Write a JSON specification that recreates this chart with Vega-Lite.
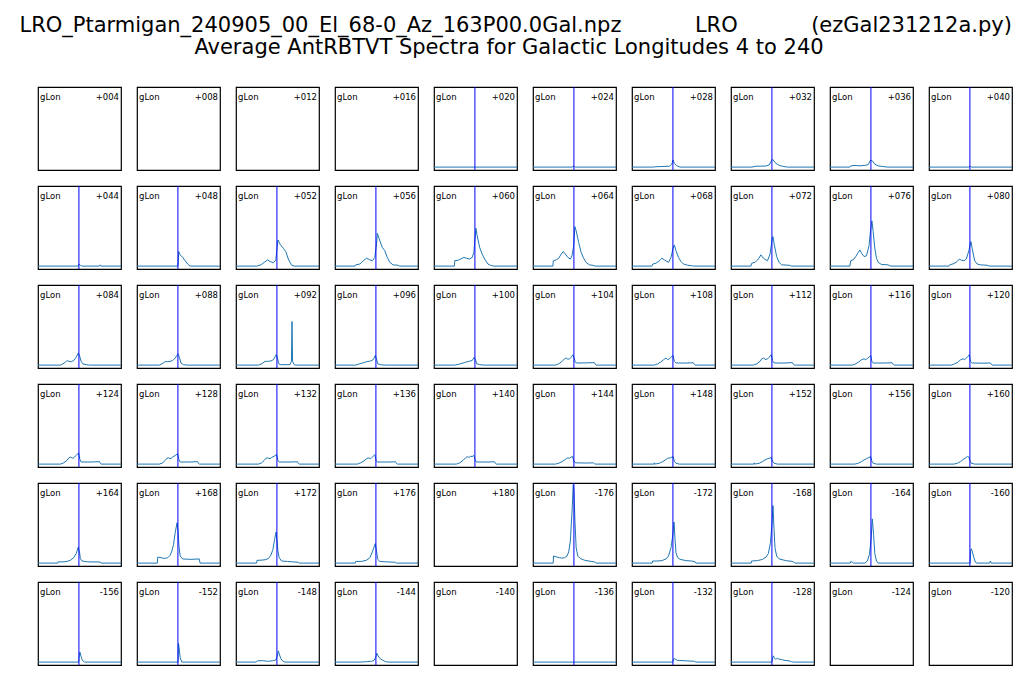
{
"$schema":"https://vega.github.io/schema/vega-lite/v6.json",
"background":"white",
"padding":{"left":6,"top":14,"right":5,"bottom":5},
"bounds":"flush",
"title":{"text":["\u200b\u00a0\u00a0LRO_Ptarmigan_240905_00_El_68-0_Az_163P00.0Gal.npz\u00a0\u00a0\u00a0\u00a0\u00a0\u00a0\u00a0\u00a0\u00a0\u00a0\u00a0LRO\u00a0\u00a0\u00a0\u00a0\u00a0\u00a0\u00a0\u00a0\u00a0\u00a0\u00a0(ezGal231212a.py)","Average AntRBTVT Spectra for Galactic Longitudes 4 to 240"],"fontSize":21,"font":"DejaVu Sans","fontWeight":"normal","anchor":"middle","dx":-16,"offset":28,"lineHeight":22,"color":"#000"},
"data":{"values":[
{"p":0,"t":"l","lab":"+004"},{"p":1,"t":"l","lab":"+008"},{"p":2,"t":"l","lab":"+012"},{"p":3,"t":"l","lab":"+016"},{"p":4,"t":"l","lab":"+020"},{"p":5,"t":"l","lab":"+024"},{"p":6,"t":"l","lab":"+028"},{"p":7,"t":"l","lab":"+032"},{"p":8,"t":"l","lab":"+036"},{"p":9,"t":"l","lab":"+040"},
{"p":10,"t":"l","lab":"+044"},{"p":11,"t":"l","lab":"+048"},{"p":12,"t":"l","lab":"+052"},{"p":13,"t":"l","lab":"+056"},{"p":14,"t":"l","lab":"+060"},{"p":15,"t":"l","lab":"+064"},{"p":16,"t":"l","lab":"+068"},{"p":17,"t":"l","lab":"+072"},{"p":18,"t":"l","lab":"+076"},{"p":19,"t":"l","lab":"+080"},
{"p":20,"t":"l","lab":"+084"},{"p":21,"t":"l","lab":"+088"},{"p":22,"t":"l","lab":"+092"},{"p":23,"t":"l","lab":"+096"},{"p":24,"t":"l","lab":"+100"},{"p":25,"t":"l","lab":"+104"},{"p":26,"t":"l","lab":"+108"},{"p":27,"t":"l","lab":"+112"},{"p":28,"t":"l","lab":"+116"},{"p":29,"t":"l","lab":"+120"},
{"p":30,"t":"l","lab":"+124"},{"p":31,"t":"l","lab":"+128"},{"p":32,"t":"l","lab":"+132"},{"p":33,"t":"l","lab":"+136"},{"p":34,"t":"l","lab":"+140"},{"p":35,"t":"l","lab":"+144"},{"p":36,"t":"l","lab":"+148"},{"p":37,"t":"l","lab":"+152"},{"p":38,"t":"l","lab":"+156"},{"p":39,"t":"l","lab":"+160"},
{"p":40,"t":"l","lab":"+164"},{"p":41,"t":"l","lab":"+168"},{"p":42,"t":"l","lab":"+172"},{"p":43,"t":"l","lab":"+176"},{"p":44,"t":"l","lab":"+180"},{"p":45,"t":"l","lab":"-176"},{"p":46,"t":"l","lab":"-172"},{"p":47,"t":"l","lab":"-168"},{"p":48,"t":"l","lab":"-164"},{"p":49,"t":"l","lab":"-160"},
{"p":50,"t":"l","lab":"-156"},{"p":51,"t":"l","lab":"-152"},{"p":52,"t":"l","lab":"-148"},{"p":53,"t":"l","lab":"-144"},{"p":54,"t":"l","lab":"-140"},{"p":55,"t":"l","lab":"-136"},{"p":56,"t":"l","lab":"-132"},{"p":57,"t":"l","lab":"-128"},{"p":58,"t":"l","lab":"-124"},{"p":59,"t":"l","lab":"-120"},
{"p":4,"t":"v"},{"p":5,"t":"v"},{"p":6,"t":"v"},{"p":7,"t":"v"},{"p":8,"t":"v"},{"p":9,"t":"v"},{"p":10,"t":"v"},{"p":11,"t":"v"},{"p":12,"t":"v"},{"p":13,"t":"v"},{"p":14,"t":"v"},{"p":15,"t":"v"},{"p":16,"t":"v"},{"p":17,"t":"v"},{"p":18,"t":"v"},{"p":19,"t":"v"},{"p":20,"t":"v"},{"p":21,"t":"v"},{"p":22,"t":"v"},{"p":23,"t":"v"},{"p":24,"t":"v"},{"p":25,"t":"v"},{"p":26,"t":"v"},{"p":27,"t":"v"},{"p":28,"t":"v"},{"p":29,"t":"v"},{"p":30,"t":"v"},{"p":31,"t":"v"},{"p":32,"t":"v"},{"p":33,"t":"v"},{"p":34,"t":"v"},{"p":35,"t":"v"},{"p":36,"t":"v"},{"p":37,"t":"v"},{"p":38,"t":"v"},{"p":39,"t":"v"},{"p":40,"t":"v"},{"p":41,"t":"v"},{"p":42,"t":"v"},{"p":43,"t":"v"},{"p":45,"t":"v"},{"p":46,"t":"v"},{"p":47,"t":"v"},{"p":48,"t":"v"},{"p":49,"t":"v"},{"p":50,"t":"v"},{"p":51,"t":"v"},{"p":52,"t":"v"},{"p":53,"t":"v"},{"p":55,"t":"v"},{"p":56,"t":"v"},{"p":57,"t":"v"},
{"p":4,"t":"s","x":0,"y":3.5},{"p":4,"t":"s","x":100,"y":3.5},
{"p":5,"t":"s","x":0,"y":3.5},{"p":5,"t":"s","x":47,"y":3.5},{"p":5,"t":"s","x":49,"y":4.5},{"p":5,"t":"s","x":51,"y":3.5},{"p":5,"t":"s","x":100,"y":3.5},
{"p":6,"t":"s","x":0,"y":3.5},{"p":6,"t":"s","x":25,"y":3.5},{"p":6,"t":"s","x":30,"y":4},{"p":6,"t":"s","x":45,"y":4.5},{"p":6,"t":"s","x":48,"y":7},{"p":6,"t":"s","x":49.5,"y":12},{"p":6,"t":"s","x":51,"y":8},{"p":6,"t":"s","x":54,"y":5},{"p":6,"t":"s","x":58,"y":3.5},{"p":6,"t":"s","x":100,"y":3.5},
{"p":7,"t":"s","x":0,"y":3.5},{"p":7,"t":"s","x":25,"y":3.5},{"p":7,"t":"s","x":30,"y":4.5},{"p":7,"t":"s","x":42,"y":4.8},{"p":7,"t":"s","x":46,"y":6},{"p":7,"t":"s","x":48.5,"y":11},{"p":7,"t":"s","x":50,"y":13},{"p":7,"t":"s","x":53,"y":9},{"p":7,"t":"s","x":57,"y":6},{"p":7,"t":"s","x":62,"y":4.5},{"p":7,"t":"s","x":68,"y":3.5},{"p":7,"t":"s","x":100,"y":3.5},
{"p":8,"t":"s","x":0,"y":3.5},{"p":8,"t":"s","x":24,"y":3.5},{"p":8,"t":"s","x":25,"y":5},{"p":8,"t":"s","x":30,"y":5.5},{"p":8,"t":"s","x":35,"y":5},{"p":8,"t":"s","x":42,"y":5.5},{"p":8,"t":"s","x":46,"y":6.5},{"p":8,"t":"s","x":49,"y":12},{"p":8,"t":"s","x":51,"y":11},{"p":8,"t":"s","x":54,"y":7},{"p":8,"t":"s","x":58,"y":5},{"p":8,"t":"s","x":65,"y":4},{"p":8,"t":"s","x":70,"y":3.5},{"p":8,"t":"s","x":100,"y":3.5},
{"p":9,"t":"s","x":0,"y":3.5},{"p":9,"t":"s","x":48,"y":3.5},{"p":9,"t":"s","x":49.5,"y":4.5},{"p":9,"t":"s","x":51,"y":3.5},{"p":9,"t":"s","x":100,"y":3.5},
{"p":10,"t":"s","x":0,"y":3.5},{"p":10,"t":"s","x":48.5,"y":3.5},{"p":10,"t":"s","x":49.5,"y":6},{"p":10,"t":"s","x":51,"y":4.5},{"p":10,"t":"s","x":53,"y":3.5},{"p":10,"t":"s","x":74,"y":3.5},{"p":10,"t":"s","x":75,"y":5},{"p":10,"t":"s","x":76,"y":3.5},{"p":10,"t":"s","x":100,"y":3.5},
{"p":11,"t":"s","x":0,"y":3.5},{"p":11,"t":"s","x":49.5,"y":3.5},{"p":11,"t":"s","x":50.3,"y":21},{"p":11,"t":"s","x":52,"y":17},{"p":11,"t":"s","x":55,"y":14},{"p":11,"t":"s","x":58,"y":10},{"p":11,"t":"s","x":61,"y":6},{"p":11,"t":"s","x":64,"y":3.5},{"p":11,"t":"s","x":100,"y":3.5},
{"p":12,"t":"s","x":0,"y":3.5},{"p":12,"t":"s","x":25,"y":3.5},{"p":12,"t":"s","x":30,"y":5},{"p":12,"t":"s","x":34,"y":8},{"p":12,"t":"s","x":38,"y":11},{"p":12,"t":"s","x":41,"y":9},{"p":12,"t":"s","x":45,"y":7.5},{"p":12,"t":"s","x":48,"y":11},{"p":12,"t":"s","x":50.5,"y":35},{"p":12,"t":"s","x":53,"y":30},{"p":12,"t":"s","x":57,"y":25},{"p":12,"t":"s","x":60,"y":21},{"p":12,"t":"s","x":63,"y":12},{"p":12,"t":"s","x":67,"y":4.5},{"p":12,"t":"s","x":70,"y":3.5},{"p":12,"t":"s","x":100,"y":3.5},
{"p":13,"t":"s","x":0,"y":3.5},{"p":13,"t":"s","x":24,"y":3.5},{"p":13,"t":"s","x":25,"y":5},{"p":13,"t":"s","x":30,"y":6},{"p":13,"t":"s","x":34,"y":10},{"p":13,"t":"s","x":38,"y":13},{"p":13,"t":"s","x":42,"y":11},{"p":13,"t":"s","x":45,"y":10},{"p":13,"t":"s","x":48,"y":14},{"p":13,"t":"s","x":50,"y":30},{"p":13,"t":"s","x":51,"y":43},{"p":13,"t":"s","x":54,"y":34},{"p":13,"t":"s","x":57,"y":26},{"p":13,"t":"s","x":60,"y":22},{"p":13,"t":"s","x":63,"y":14},{"p":13,"t":"s","x":66,"y":8},{"p":13,"t":"s","x":70,"y":5},{"p":13,"t":"s","x":76,"y":4.5},{"p":13,"t":"s","x":78,"y":3.5},{"p":13,"t":"s","x":100,"y":3.5},
{"p":14,"t":"s","x":0,"y":3.5},{"p":14,"t":"s","x":24.5,"y":3.5},{"p":14,"t":"s","x":25,"y":10},{"p":14,"t":"s","x":29,"y":10.5},{"p":14,"t":"s","x":32,"y":12},{"p":14,"t":"s","x":36,"y":14},{"p":14,"t":"s","x":39,"y":13},{"p":14,"t":"s","x":43,"y":12},{"p":14,"t":"s","x":46,"y":14},{"p":14,"t":"s","x":48,"y":20},{"p":14,"t":"s","x":50.5,"y":49},{"p":14,"t":"s","x":52,"y":40},{"p":14,"t":"s","x":55,"y":26},{"p":14,"t":"s","x":58,"y":18},{"p":14,"t":"s","x":61,"y":12},{"p":14,"t":"s","x":65,"y":6},{"p":14,"t":"s","x":68,"y":4.5},{"p":14,"t":"s","x":72,"y":3.5},{"p":14,"t":"s","x":100,"y":3.5},
{"p":15,"t":"s","x":0,"y":3.5},{"p":15,"t":"s","x":24,"y":3.5},{"p":15,"t":"s","x":24.5,"y":10},{"p":15,"t":"s","x":28,"y":11},{"p":15,"t":"s","x":31,"y":13},{"p":15,"t":"s","x":34,"y":18},{"p":15,"t":"s","x":36.5,"y":21},{"p":15,"t":"s","x":39,"y":18},{"p":15,"t":"s","x":42,"y":14},{"p":15,"t":"s","x":45,"y":12},{"p":15,"t":"s","x":47,"y":16},{"p":15,"t":"s","x":49,"y":28},{"p":15,"t":"s","x":50.5,"y":51},{"p":15,"t":"s","x":52,"y":46},{"p":15,"t":"s","x":55,"y":32},{"p":15,"t":"s","x":58,"y":20},{"p":15,"t":"s","x":61,"y":13},{"p":15,"t":"s","x":64,"y":8},{"p":15,"t":"s","x":68,"y":5},{"p":15,"t":"s","x":72,"y":4.5},{"p":15,"t":"s","x":75,"y":3.5},{"p":15,"t":"s","x":100,"y":3.5},
{"p":16,"t":"s","x":0,"y":3.5},{"p":16,"t":"s","x":24,"y":3.5},{"p":16,"t":"s","x":25,"y":6},{"p":16,"t":"s","x":29,"y":7},{"p":16,"t":"s","x":33,"y":10},{"p":16,"t":"s","x":36,"y":13},{"p":16,"t":"s","x":39,"y":11},{"p":16,"t":"s","x":42,"y":9},{"p":16,"t":"s","x":44,"y":8},{"p":16,"t":"s","x":47,"y":14},{"p":16,"t":"s","x":49.5,"y":25},{"p":16,"t":"s","x":51,"y":29},{"p":16,"t":"s","x":53,"y":22},{"p":16,"t":"s","x":56,"y":14},{"p":16,"t":"s","x":59,"y":9},{"p":16,"t":"s","x":62,"y":6},{"p":16,"t":"s","x":67,"y":4.5},{"p":16,"t":"s","x":72,"y":4},{"p":16,"t":"s","x":74,"y":3.5},{"p":16,"t":"s","x":100,"y":3.5},
{"p":17,"t":"s","x":0,"y":3.5},{"p":17,"t":"s","x":24,"y":3.5},{"p":17,"t":"s","x":25,"y":7},{"p":17,"t":"s","x":29,"y":8},{"p":17,"t":"s","x":33,"y":12},{"p":17,"t":"s","x":36,"y":17},{"p":17,"t":"s","x":39,"y":13},{"p":17,"t":"s","x":42,"y":11},{"p":17,"t":"s","x":44,"y":10},{"p":17,"t":"s","x":47,"y":18},{"p":17,"t":"s","x":49.5,"y":35},{"p":17,"t":"s","x":50.5,"y":39},{"p":17,"t":"s","x":52,"y":30},{"p":17,"t":"s","x":55,"y":15},{"p":17,"t":"s","x":58,"y":8},{"p":17,"t":"s","x":61,"y":5},{"p":17,"t":"s","x":70,"y":4.5},{"p":17,"t":"s","x":73,"y":3.5},{"p":17,"t":"s","x":100,"y":3.5},
{"p":18,"t":"s","x":0,"y":3.5},{"p":18,"t":"s","x":24,"y":3.5},{"p":18,"t":"s","x":25,"y":10},{"p":18,"t":"s","x":28,"y":11},{"p":18,"t":"s","x":31,"y":15},{"p":18,"t":"s","x":34,"y":20},{"p":18,"t":"s","x":36,"y":23},{"p":18,"t":"s","x":38,"y":19},{"p":18,"t":"s","x":41,"y":15},{"p":18,"t":"s","x":44,"y":16},{"p":18,"t":"s","x":47,"y":28},{"p":18,"t":"s","x":49,"y":48},{"p":18,"t":"s","x":50.5,"y":58},{"p":18,"t":"s","x":52,"y":45},{"p":18,"t":"s","x":54,"y":25},{"p":18,"t":"s","x":56,"y":13},{"p":18,"t":"s","x":58,"y":8},{"p":18,"t":"s","x":62,"y":5.5},{"p":18,"t":"s","x":70,"y":5},{"p":18,"t":"s","x":73,"y":3.5},{"p":18,"t":"s","x":100,"y":3.5},
{"p":19,"t":"s","x":0,"y":3.5},{"p":19,"t":"s","x":24,"y":3.5},{"p":19,"t":"s","x":25,"y":5},{"p":19,"t":"s","x":30,"y":6.5},{"p":19,"t":"s","x":34,"y":9},{"p":19,"t":"s","x":36.5,"y":12},{"p":19,"t":"s","x":39,"y":10.5},{"p":19,"t":"s","x":42,"y":10},{"p":19,"t":"s","x":45,"y":12},{"p":19,"t":"s","x":48,"y":22},{"p":19,"t":"s","x":50.5,"y":33},{"p":19,"t":"s","x":52,"y":25},{"p":19,"t":"s","x":55,"y":10},{"p":19,"t":"s","x":58,"y":6},{"p":19,"t":"s","x":62,"y":5},{"p":19,"t":"s","x":70,"y":4.5},{"p":19,"t":"s","x":73,"y":3.5},{"p":19,"t":"s","x":100,"y":3.5},
{"p":20,"t":"s","x":0,"y":3.5},{"p":20,"t":"s","x":27,"y":3.5},{"p":20,"t":"s","x":30,"y":5},{"p":20,"t":"s","x":33,"y":7},{"p":20,"t":"s","x":35,"y":9},{"p":20,"t":"s","x":37,"y":8},{"p":20,"t":"s","x":40,"y":7.5},{"p":20,"t":"s","x":43,"y":9},{"p":20,"t":"s","x":46,"y":13},{"p":20,"t":"s","x":48.5,"y":18},{"p":20,"t":"s","x":50,"y":15},{"p":20,"t":"s","x":52,"y":8},{"p":20,"t":"s","x":54,"y":5},{"p":20,"t":"s","x":58,"y":4},{"p":20,"t":"s","x":62,"y":3.5},{"p":20,"t":"s","x":100,"y":3.5},
{"p":21,"t":"s","x":0,"y":3.5},{"p":21,"t":"s","x":27,"y":3.5},{"p":21,"t":"s","x":30,"y":5},{"p":21,"t":"s","x":33,"y":7},{"p":21,"t":"s","x":35,"y":8},{"p":21,"t":"s","x":37,"y":7.5},{"p":21,"t":"s","x":40,"y":8},{"p":21,"t":"s","x":43,"y":9},{"p":21,"t":"s","x":46,"y":12},{"p":21,"t":"s","x":49.5,"y":17},{"p":21,"t":"s","x":51,"y":13},{"p":21,"t":"s","x":53,"y":6},{"p":21,"t":"s","x":56,"y":4},{"p":21,"t":"s","x":60,"y":3.5},{"p":21,"t":"s","x":100,"y":3.5},
{"p":22,"t":"s","x":0,"y":3.5},{"p":22,"t":"s","x":27,"y":3.5},{"p":22,"t":"s","x":31,"y":5},{"p":22,"t":"s","x":35,"y":8},{"p":22,"t":"s","x":38,"y":8},{"p":22,"t":"s","x":42,"y":8.5},{"p":22,"t":"s","x":45,"y":10},{"p":22,"t":"s","x":48.5,"y":16},{"p":22,"t":"s","x":50,"y":12},{"p":22,"t":"s","x":51.5,"y":5},{"p":22,"t":"s","x":54,"y":4},{"p":22,"t":"s","x":65,"y":4},{"p":22,"t":"s","x":66.8,"y":8},{"p":22,"t":"s","x":67.5,"y":56},{"p":22,"t":"s","x":68.2,"y":8},{"p":22,"t":"s","x":70,"y":4},{"p":22,"t":"s","x":72,"y":3.5},{"p":22,"t":"s","x":100,"y":3.5},
{"p":23,"t":"s","x":0,"y":3.5},{"p":23,"t":"s","x":25,"y":3.5},{"p":23,"t":"s","x":28,"y":4.5},{"p":23,"t":"s","x":33,"y":6},{"p":23,"t":"s","x":38,"y":7.5},{"p":23,"t":"s","x":43,"y":8.5},{"p":23,"t":"s","x":46,"y":10},{"p":23,"t":"s","x":48.5,"y":15},{"p":23,"t":"s","x":50,"y":11},{"p":23,"t":"s","x":51.5,"y":5},{"p":23,"t":"s","x":55,"y":4},{"p":23,"t":"s","x":60,"y":3.5},{"p":23,"t":"s","x":100,"y":3.5},
{"p":24,"t":"s","x":0,"y":3.5},{"p":24,"t":"s","x":25,"y":3.5},{"p":24,"t":"s","x":30,"y":4.5},{"p":24,"t":"s","x":35,"y":6},{"p":24,"t":"s","x":38,"y":7},{"p":24,"t":"s","x":42,"y":8},{"p":24,"t":"s","x":46,"y":9},{"p":24,"t":"s","x":48.5,"y":13},{"p":24,"t":"s","x":50,"y":10},{"p":24,"t":"s","x":51.5,"y":5},{"p":24,"t":"s","x":55,"y":4},{"p":24,"t":"s","x":60,"y":3.5},{"p":24,"t":"s","x":100,"y":3.5},
{"p":25,"t":"s","x":0,"y":3.5},{"p":25,"t":"s","x":27,"y":3.5},{"p":25,"t":"s","x":31,"y":5},{"p":25,"t":"s","x":35,"y":8},{"p":25,"t":"s","x":38,"y":11},{"p":25,"t":"s","x":40,"y":12},{"p":25,"t":"s","x":42,"y":10.5},{"p":25,"t":"s","x":44,"y":11},{"p":25,"t":"s","x":46,"y":13},{"p":25,"t":"s","x":48,"y":16},{"p":25,"t":"s","x":49.5,"y":12},{"p":25,"t":"s","x":51,"y":7},{"p":25,"t":"s","x":53,"y":6},{"p":25,"t":"s","x":65,"y":6.2},{"p":25,"t":"s","x":74,"y":6.5},{"p":25,"t":"s","x":75,"y":4.5},{"p":25,"t":"s","x":76,"y":3.5},{"p":25,"t":"s","x":100,"y":3.5},
{"p":26,"t":"s","x":0,"y":3.5},{"p":26,"t":"s","x":27,"y":3.5},{"p":26,"t":"s","x":31,"y":5},{"p":26,"t":"s","x":35,"y":7.5},{"p":26,"t":"s","x":38,"y":10},{"p":26,"t":"s","x":41,"y":12},{"p":26,"t":"s","x":43,"y":10},{"p":26,"t":"s","x":45,"y":11},{"p":26,"t":"s","x":47,"y":13},{"p":26,"t":"s","x":49.5,"y":15},{"p":26,"t":"s","x":51,"y":8},{"p":26,"t":"s","x":53,"y":6},{"p":26,"t":"s","x":65,"y":6},{"p":26,"t":"s","x":74,"y":6.3},{"p":26,"t":"s","x":75,"y":4.5},{"p":26,"t":"s","x":76,"y":3.5},{"p":26,"t":"s","x":100,"y":3.5},
{"p":27,"t":"s","x":0,"y":3.5},{"p":27,"t":"s","x":27,"y":3.5},{"p":27,"t":"s","x":31,"y":5},{"p":27,"t":"s","x":35,"y":8},{"p":27,"t":"s","x":37,"y":11},{"p":27,"t":"s","x":39,"y":12},{"p":27,"t":"s","x":42,"y":10},{"p":27,"t":"s","x":44,"y":11},{"p":27,"t":"s","x":46,"y":13},{"p":27,"t":"s","x":48.5,"y":16},{"p":27,"t":"s","x":50,"y":9},{"p":27,"t":"s","x":52,"y":6},{"p":27,"t":"s","x":65,"y":6},{"p":27,"t":"s","x":74,"y":6.5},{"p":27,"t":"s","x":75,"y":4.5},{"p":27,"t":"s","x":76,"y":3.5},{"p":27,"t":"s","x":100,"y":3.5},
{"p":28,"t":"s","x":0,"y":3.5},{"p":28,"t":"s","x":27,"y":3.5},{"p":28,"t":"s","x":31,"y":5},{"p":28,"t":"s","x":35,"y":7.5},{"p":28,"t":"s","x":38,"y":10},{"p":28,"t":"s","x":41,"y":11},{"p":28,"t":"s","x":43,"y":10},{"p":28,"t":"s","x":45,"y":11.5},{"p":28,"t":"s","x":47,"y":13},{"p":28,"t":"s","x":49,"y":15},{"p":28,"t":"s","x":50.5,"y":8},{"p":28,"t":"s","x":52,"y":6},{"p":28,"t":"s","x":65,"y":6},{"p":28,"t":"s","x":75,"y":6.3},{"p":28,"t":"s","x":76,"y":4.5},{"p":28,"t":"s","x":77,"y":3.5},{"p":28,"t":"s","x":100,"y":3.5},
{"p":29,"t":"s","x":0,"y":3.5},{"p":29,"t":"s","x":27,"y":3.5},{"p":29,"t":"s","x":31,"y":5},{"p":29,"t":"s","x":35,"y":7},{"p":29,"t":"s","x":38,"y":10},{"p":29,"t":"s","x":41,"y":11},{"p":29,"t":"s","x":43,"y":10},{"p":29,"t":"s","x":45,"y":12},{"p":29,"t":"s","x":47,"y":14},{"p":29,"t":"s","x":48.5,"y":16},{"p":29,"t":"s","x":50,"y":8},{"p":29,"t":"s","x":52,"y":6},{"p":29,"t":"s","x":65,"y":5.8},{"p":29,"t":"s","x":74,"y":6},{"p":29,"t":"s","x":75,"y":4.5},{"p":29,"t":"s","x":76,"y":3.5},{"p":29,"t":"s","x":100,"y":3.5},
{"p":30,"t":"s","x":0,"y":3.5},{"p":30,"t":"s","x":27,"y":3.5},{"p":30,"t":"s","x":31,"y":5},{"p":30,"t":"s","x":35,"y":8},{"p":30,"t":"s","x":37,"y":11},{"p":30,"t":"s","x":39,"y":12},{"p":30,"t":"s","x":42,"y":10.5},{"p":30,"t":"s","x":44,"y":12},{"p":30,"t":"s","x":46,"y":14},{"p":30,"t":"s","x":49,"y":17},{"p":30,"t":"s","x":50.5,"y":9},{"p":30,"t":"s","x":52,"y":6},{"p":30,"t":"s","x":65,"y":6},{"p":30,"t":"s","x":74,"y":6.5},{"p":30,"t":"s","x":75,"y":4.5},{"p":30,"t":"s","x":76,"y":3.5},{"p":30,"t":"s","x":100,"y":3.5},
{"p":31,"t":"s","x":0,"y":3.5},{"p":31,"t":"s","x":27,"y":3.5},{"p":31,"t":"s","x":31,"y":5},{"p":31,"t":"s","x":34,"y":8},{"p":31,"t":"s","x":36,"y":10.5},{"p":31,"t":"s","x":38,"y":11},{"p":31,"t":"s","x":41,"y":10},{"p":31,"t":"s","x":43,"y":12},{"p":31,"t":"s","x":46,"y":14},{"p":31,"t":"s","x":49,"y":16},{"p":31,"t":"s","x":50.5,"y":9},{"p":31,"t":"s","x":52,"y":6},{"p":31,"t":"s","x":65,"y":6},{"p":31,"t":"s","x":73,"y":6.5},{"p":31,"t":"s","x":74,"y":4.5},{"p":31,"t":"s","x":75,"y":3.5},{"p":31,"t":"s","x":100,"y":3.5},
{"p":32,"t":"s","x":0,"y":3.5},{"p":32,"t":"s","x":27,"y":3.5},{"p":32,"t":"s","x":31,"y":5},{"p":32,"t":"s","x":34,"y":8},{"p":32,"t":"s","x":36,"y":10.5},{"p":32,"t":"s","x":38,"y":11},{"p":32,"t":"s","x":41,"y":10},{"p":32,"t":"s","x":43,"y":11.5},{"p":32,"t":"s","x":46,"y":13},{"p":32,"t":"s","x":49,"y":15},{"p":32,"t":"s","x":50.5,"y":8},{"p":32,"t":"s","x":52,"y":6},{"p":32,"t":"s","x":65,"y":6},{"p":32,"t":"s","x":74,"y":6.3},{"p":32,"t":"s","x":75,"y":4.5},{"p":32,"t":"s","x":76,"y":3.5},{"p":32,"t":"s","x":100,"y":3.5},
{"p":33,"t":"s","x":0,"y":3.5},{"p":33,"t":"s","x":27,"y":3.5},{"p":33,"t":"s","x":31,"y":5},{"p":33,"t":"s","x":35,"y":7.5},{"p":33,"t":"s","x":38,"y":10},{"p":33,"t":"s","x":41,"y":11},{"p":33,"t":"s","x":43,"y":10},{"p":33,"t":"s","x":45,"y":12},{"p":33,"t":"s","x":47,"y":14},{"p":33,"t":"s","x":48,"y":15},{"p":33,"t":"s","x":49.5,"y":8},{"p":33,"t":"s","x":51,"y":6},{"p":33,"t":"s","x":65,"y":6},{"p":33,"t":"s","x":73,"y":6.3},{"p":33,"t":"s","x":74,"y":4.5},{"p":33,"t":"s","x":75,"y":3.5},{"p":33,"t":"s","x":100,"y":3.5},
{"p":34,"t":"s","x":0,"y":3.5},{"p":34,"t":"s","x":27,"y":3.5},{"p":34,"t":"s","x":31,"y":5},{"p":34,"t":"s","x":35,"y":8},{"p":34,"t":"s","x":38,"y":11},{"p":34,"t":"s","x":40,"y":12.5},{"p":34,"t":"s","x":42,"y":11.5},{"p":34,"t":"s","x":44,"y":13},{"p":34,"t":"s","x":46,"y":12.5},{"p":34,"t":"s","x":48,"y":14},{"p":34,"t":"s","x":49.5,"y":9},{"p":34,"t":"s","x":51,"y":6},{"p":34,"t":"s","x":65,"y":6},{"p":34,"t":"s","x":73,"y":6.3},{"p":34,"t":"s","x":74,"y":4.5},{"p":34,"t":"s","x":75,"y":3.5},{"p":34,"t":"s","x":100,"y":3.5},
{"p":35,"t":"s","x":0,"y":3.5},{"p":35,"t":"s","x":27,"y":3.5},{"p":35,"t":"s","x":31,"y":4.5},{"p":35,"t":"s","x":35,"y":6.5},{"p":35,"t":"s","x":38,"y":8.5},{"p":35,"t":"s","x":40,"y":10},{"p":35,"t":"s","x":42,"y":11},{"p":35,"t":"s","x":44,"y":10.5},{"p":35,"t":"s","x":46,"y":12},{"p":35,"t":"s","x":47.5,"y":13},{"p":35,"t":"s","x":49,"y":8},{"p":35,"t":"s","x":51,"y":5},{"p":35,"t":"s","x":65,"y":4.8},{"p":35,"t":"s","x":73,"y":5},{"p":35,"t":"s","x":74,"y":4},{"p":35,"t":"s","x":75,"y":3.5},{"p":35,"t":"s","x":100,"y":3.5},
{"p":36,"t":"s","x":0,"y":3.5},{"p":36,"t":"s","x":26.5,"y":3.5},{"p":36,"t":"s","x":27,"y":5},{"p":36,"t":"s","x":27.5,"y":3.5},{"p":36,"t":"s","x":33,"y":4.5},{"p":36,"t":"s","x":37,"y":6.5},{"p":36,"t":"s","x":40,"y":8.5},{"p":36,"t":"s","x":43,"y":10.5},{"p":36,"t":"s","x":46,"y":11},{"p":36,"t":"s","x":48,"y":12},{"p":36,"t":"s","x":49.5,"y":12.5},{"p":36,"t":"s","x":51,"y":7},{"p":36,"t":"s","x":53,"y":4.5},{"p":36,"t":"s","x":57,"y":3.5},{"p":36,"t":"s","x":100,"y":3.5},
{"p":37,"t":"s","x":0,"y":3.5},{"p":37,"t":"s","x":27.5,"y":3.5},{"p":37,"t":"s","x":28,"y":5},{"p":37,"t":"s","x":28.5,"y":3.5},{"p":37,"t":"s","x":34,"y":4.5},{"p":37,"t":"s","x":38,"y":6.5},{"p":37,"t":"s","x":41,"y":8.5},{"p":37,"t":"s","x":44,"y":10},{"p":37,"t":"s","x":46,"y":10.5},{"p":37,"t":"s","x":48.5,"y":11.5},{"p":37,"t":"s","x":50,"y":7},{"p":37,"t":"s","x":52,"y":4.5},{"p":37,"t":"s","x":56,"y":3.5},{"p":37,"t":"s","x":100,"y":3.5},
{"p":38,"t":"s","x":0,"y":3.5},{"p":38,"t":"s","x":30,"y":3.5},{"p":38,"t":"s","x":34,"y":4.5},{"p":38,"t":"s","x":38,"y":6.5},{"p":38,"t":"s","x":41,"y":8.5},{"p":38,"t":"s","x":44,"y":10},{"p":38,"t":"s","x":47,"y":11.5},{"p":38,"t":"s","x":49,"y":12.5},{"p":38,"t":"s","x":50.5,"y":7},{"p":38,"t":"s","x":52,"y":4.5},{"p":38,"t":"s","x":56,"y":3.5},{"p":38,"t":"s","x":100,"y":3.5},
{"p":39,"t":"s","x":0,"y":3.5},{"p":39,"t":"s","x":30,"y":3.5},{"p":39,"t":"s","x":34,"y":4.5},{"p":39,"t":"s","x":38,"y":6.5},{"p":39,"t":"s","x":41,"y":9},{"p":39,"t":"s","x":44,"y":11},{"p":39,"t":"s","x":46.5,"y":12.8},{"p":39,"t":"s","x":48,"y":12},{"p":39,"t":"s","x":49.5,"y":7},{"p":39,"t":"s","x":51,"y":4.5},{"p":39,"t":"s","x":55,"y":3.5},{"p":39,"t":"s","x":100,"y":3.5},
{"p":40,"t":"s","x":0,"y":3.5},{"p":40,"t":"s","x":24,"y":3.5},{"p":40,"t":"s","x":24.5,"y":5},{"p":40,"t":"s","x":30,"y":5},{"p":40,"t":"s","x":35,"y":5.5},{"p":40,"t":"s","x":39,"y":7},{"p":40,"t":"s","x":43,"y":10},{"p":40,"t":"s","x":46,"y":15},{"p":40,"t":"s","x":48.5,"y":22.5},{"p":40,"t":"s","x":50,"y":17},{"p":40,"t":"s","x":51,"y":9},{"p":40,"t":"s","x":53,"y":6},{"p":40,"t":"s","x":60,"y":5},{"p":40,"t":"s","x":75,"y":4.8},{"p":40,"t":"s","x":76,"y":3.5},{"p":40,"t":"s","x":100,"y":3.5},
{"p":41,"t":"s","x":0,"y":3.5},{"p":41,"t":"s","x":24.5,"y":3.5},{"p":41,"t":"s","x":25,"y":10.8},{"p":41,"t":"s","x":29,"y":10},{"p":41,"t":"s","x":33,"y":9},{"p":41,"t":"s","x":37,"y":10},{"p":41,"t":"s","x":40,"y":13},{"p":41,"t":"s","x":42,"y":18},{"p":41,"t":"s","x":44,"y":26},{"p":41,"t":"s","x":46,"y":40},{"p":41,"t":"s","x":48.2,"y":52},{"p":41,"t":"s","x":49.5,"y":42},{"p":41,"t":"s","x":50.5,"y":25},{"p":41,"t":"s","x":52,"y":12},{"p":41,"t":"s","x":55,"y":8.5},{"p":41,"t":"s","x":65,"y":8},{"p":41,"t":"s","x":75,"y":8.5},{"p":41,"t":"s","x":76,"y":3.5},{"p":41,"t":"s","x":100,"y":3.5},
{"p":42,"t":"s","x":0,"y":3.5},{"p":42,"t":"s","x":24.8,"y":3.5},{"p":42,"t":"s","x":25.3,"y":6.8},{"p":42,"t":"s","x":30,"y":7},{"p":42,"t":"s","x":35,"y":7.5},{"p":42,"t":"s","x":39,"y":9},{"p":42,"t":"s","x":42,"y":13},{"p":42,"t":"s","x":44.5,"y":20},{"p":42,"t":"s","x":46.5,"y":32},{"p":42,"t":"s","x":48.2,"y":40.8},{"p":42,"t":"s","x":49.5,"y":30},{"p":42,"t":"s","x":50.5,"y":18},{"p":42,"t":"s","x":52,"y":10},{"p":42,"t":"s","x":55,"y":6},{"p":42,"t":"s","x":62,"y":5.5},{"p":42,"t":"s","x":68,"y":5},{"p":42,"t":"s","x":75,"y":4.5},{"p":42,"t":"s","x":76,"y":3.5},{"p":42,"t":"s","x":100,"y":3.5},
{"p":43,"t":"s","x":0,"y":3.5},{"p":43,"t":"s","x":24.5,"y":3.5},{"p":43,"t":"s","x":25,"y":5.5},{"p":43,"t":"s","x":32,"y":5.5},{"p":43,"t":"s","x":38,"y":7},{"p":43,"t":"s","x":42,"y":10},{"p":43,"t":"s","x":45,"y":17},{"p":43,"t":"s","x":48.6,"y":27},{"p":43,"t":"s","x":50,"y":18},{"p":43,"t":"s","x":51.5,"y":8},{"p":43,"t":"s","x":54,"y":5.5},{"p":43,"t":"s","x":62,"y":5},{"p":43,"t":"s","x":72,"y":4.5},{"p":43,"t":"s","x":74,"y":3.5},{"p":43,"t":"s","x":100,"y":3.5},
{"p":45,"t":"s","x":0,"y":3.5},{"p":45,"t":"s","x":24.3,"y":3.5},{"p":45,"t":"s","x":24.8,"y":12},{"p":45,"t":"s","x":28,"y":11},{"p":45,"t":"s","x":32,"y":10},{"p":45,"t":"s","x":35,"y":9.5},{"p":45,"t":"s","x":38,"y":10},{"p":45,"t":"s","x":41,"y":12},{"p":45,"t":"s","x":43,"y":17},{"p":45,"t":"s","x":45,"y":30},{"p":45,"t":"s","x":47,"y":65},{"p":45,"t":"s","x":48.5,"y":98},{"p":45,"t":"s","x":49.5,"y":88},{"p":45,"t":"s","x":50.5,"y":55},{"p":45,"t":"s","x":52,"y":22},{"p":45,"t":"s","x":54,"y":12},{"p":45,"t":"s","x":57,"y":9},{"p":45,"t":"s","x":62,"y":7},{"p":45,"t":"s","x":70,"y":5.5},{"p":45,"t":"s","x":74,"y":5},{"p":45,"t":"s","x":76,"y":3.5},{"p":45,"t":"s","x":100,"y":3.5},
{"p":46,"t":"s","x":0,"y":3.5},{"p":46,"t":"s","x":24.3,"y":3.5},{"p":46,"t":"s","x":24.8,"y":6},{"p":46,"t":"s","x":30,"y":6},{"p":46,"t":"s","x":36,"y":6.5},{"p":46,"t":"s","x":41,"y":8.5},{"p":46,"t":"s","x":44,"y":12},{"p":46,"t":"s","x":47,"y":22},{"p":46,"t":"s","x":49,"y":36},{"p":46,"t":"s","x":50.6,"y":53},{"p":46,"t":"s","x":51.8,"y":33},{"p":46,"t":"s","x":53,"y":16},{"p":46,"t":"s","x":55,"y":10},{"p":46,"t":"s","x":58,"y":8},{"p":46,"t":"s","x":65,"y":6.5},{"p":46,"t":"s","x":72,"y":6},{"p":46,"t":"s","x":76,"y":5},{"p":46,"t":"s","x":77,"y":3.5},{"p":46,"t":"s","x":100,"y":3.5},
{"p":47,"t":"s","x":0,"y":3.5},{"p":47,"t":"s","x":24.3,"y":3.5},{"p":47,"t":"s","x":24.8,"y":6},{"p":47,"t":"s","x":32,"y":6.5},{"p":47,"t":"s","x":38,"y":8},{"p":47,"t":"s","x":42,"y":10.5},{"p":47,"t":"s","x":45,"y":15},{"p":47,"t":"s","x":47.5,"y":28},{"p":47,"t":"s","x":49.3,"y":50},{"p":47,"t":"s","x":50.6,"y":72.8},{"p":47,"t":"s","x":51.8,"y":45},{"p":47,"t":"s","x":53,"y":22},{"p":47,"t":"s","x":55,"y":12},{"p":47,"t":"s","x":58,"y":8.5},{"p":47,"t":"s","x":66,"y":6.5},{"p":47,"t":"s","x":74,"y":5.5},{"p":47,"t":"s","x":76,"y":4.5},{"p":47,"t":"s","x":77,"y":3.5},{"p":47,"t":"s","x":100,"y":3.5},
{"p":48,"t":"s","x":0,"y":3.5},{"p":48,"t":"s","x":24.5,"y":3.5},{"p":48,"t":"s","x":25,"y":5.5},{"p":48,"t":"s","x":27,"y":4.5},{"p":48,"t":"s","x":28.5,"y":3.5},{"p":48,"t":"s","x":42,"y":3.5},{"p":48,"t":"s","x":45,"y":6},{"p":48,"t":"s","x":47.5,"y":14},{"p":48,"t":"s","x":49.5,"y":32},{"p":48,"t":"s","x":51,"y":56.8},{"p":48,"t":"s","x":52.5,"y":38},{"p":48,"t":"s","x":54,"y":15},{"p":48,"t":"s","x":56,"y":6},{"p":48,"t":"s","x":58,"y":3.5},{"p":48,"t":"s","x":100,"y":3.5},
{"p":49,"t":"s","x":0,"y":3.5},{"p":49,"t":"s","x":49.6,"y":3.5},{"p":49,"t":"s","x":50.2,"y":18},{"p":49,"t":"s","x":51,"y":20.8},{"p":49,"t":"s","x":52.3,"y":17},{"p":49,"t":"s","x":54,"y":10},{"p":49,"t":"s","x":56,"y":4.5},{"p":49,"t":"s","x":58,"y":3.5},{"p":49,"t":"s","x":73,"y":3.5},{"p":49,"t":"s","x":74,"y":6},{"p":49,"t":"s","x":75,"y":3.5},{"p":49,"t":"s","x":100,"y":3.5},
{"p":50,"t":"s","x":0,"y":3.5},{"p":50,"t":"s","x":49,"y":3.5},{"p":50,"t":"s","x":49.8,"y":12},{"p":50,"t":"s","x":50.5,"y":15.5},{"p":50,"t":"s","x":52,"y":10},{"p":50,"t":"s","x":53.5,"y":5.5},{"p":50,"t":"s","x":56,"y":3.5},{"p":50,"t":"s","x":100,"y":3.5},
{"p":51,"t":"s","x":0,"y":3.5},{"p":51,"t":"s","x":49.5,"y":3.5},{"p":51,"t":"s","x":50,"y":26},{"p":51,"t":"s","x":51,"y":18},{"p":51,"t":"s","x":52,"y":9},{"p":51,"t":"s","x":54,"y":3.5},{"p":51,"t":"s","x":100,"y":3.5},
{"p":52,"t":"s","x":0,"y":3.5},{"p":52,"t":"s","x":24,"y":3.5},{"p":52,"t":"s","x":26,"y":5},{"p":52,"t":"s","x":32,"y":5.2},{"p":52,"t":"s","x":38,"y":4.5},{"p":52,"t":"s","x":44,"y":5},{"p":52,"t":"s","x":48,"y":6},{"p":52,"t":"s","x":50,"y":12},{"p":52,"t":"s","x":51,"y":17},{"p":52,"t":"s","x":52.5,"y":12},{"p":52,"t":"s","x":54,"y":8},{"p":52,"t":"s","x":56,"y":5},{"p":52,"t":"s","x":59,"y":3.5},{"p":52,"t":"s","x":100,"y":3.5},
{"p":53,"t":"s","x":0,"y":3.5},{"p":53,"t":"s","x":30,"y":3.5},{"p":53,"t":"s","x":38,"y":4},{"p":53,"t":"s","x":44,"y":4.5},{"p":53,"t":"s","x":47,"y":5.5},{"p":53,"t":"s","x":49,"y":9},{"p":53,"t":"s","x":50.5,"y":14},{"p":53,"t":"s","x":52,"y":11},{"p":53,"t":"s","x":54,"y":8},{"p":53,"t":"s","x":57,"y":6},{"p":53,"t":"s","x":61,"y":4},{"p":53,"t":"s","x":64,"y":3.5},{"p":53,"t":"s","x":100,"y":3.5},
{"p":55,"t":"s","x":0,"y":3.5},{"p":55,"t":"s","x":100,"y":3.5},
{"p":56,"t":"s","x":0,"y":3.5},{"p":56,"t":"s","x":49,"y":3.5},{"p":56,"t":"s","x":50,"y":6},{"p":56,"t":"s","x":51,"y":8},{"p":56,"t":"s","x":53,"y":6.5},{"p":56,"t":"s","x":55,"y":5.5},{"p":56,"t":"s","x":65,"y":5},{"p":56,"t":"s","x":75,"y":4.5},{"p":56,"t":"s","x":77,"y":3.5},{"p":56,"t":"s","x":100,"y":3.5},
{"p":57,"t":"s","x":0,"y":3.5},{"p":57,"t":"s","x":49.3,"y":3.5},{"p":57,"t":"s","x":50.3,"y":9},{"p":57,"t":"s","x":51,"y":11},{"p":57,"t":"s","x":52.5,"y":8},{"p":57,"t":"s","x":54,"y":7},{"p":57,"t":"s","x":56,"y":8},{"p":57,"t":"s","x":58,"y":7},{"p":57,"t":"s","x":61,"y":6.5},{"p":57,"t":"s","x":65,"y":5.5},{"p":57,"t":"s","x":70,"y":5},{"p":57,"t":"s","x":73,"y":4},{"p":57,"t":"s","x":75,"y":3.5},{"p":57,"t":"s","x":100,"y":3.5}
]},
"facet":{"field":"p","type":"ordinal","header":{"labels":false,"title":null,"labelExpr":"''","labelFontSize":0,"labelPadding":0,"titlePadding":0}},
"columns":10,
"spacing":16,
"spec":{
"width":83,"height":83,
"layer":[
{"transform":[{"filter":"datum.t == 's'"}],"mark":{"type":"line","color":"#1f77b4","strokeWidth":1},
"encoding":{"x":{"field":"x","type":"quantitative","scale":{"domain":[0,100],"nice":false},"axis":null},"y":{"field":"y","type":"quantitative","scale":{"domain":[0,100],"nice":false},"axis":null}}},
{"transform":[{"filter":"datum.t == 'v'"}],"mark":{"type":"rule","color":"#0000ff","strokeWidth":1},
"encoding":{"x":{"datum":49.3,"type":"quantitative"}}},
{"transform":[{"filter":"datum.t == 'l'"}],"mark":{"type":"text","text":"gLon","align":"left","baseline":"alphabetic","fontSize":8.5,"font":"DejaVu Sans","color":"#000"},
"encoding":{"x":{"datum":2.4,"type":"quantitative"},"y":{"datum":84.3,"type":"quantitative"}}},
{"transform":[{"filter":"datum.t == 'l'"}],"mark":{"type":"text","align":"right","baseline":"alphabetic","fontSize":8.5,"font":"DejaVu Sans","color":"#000"},
"encoding":{"x":{"datum":97.6,"type":"quantitative"},"y":{"datum":84.3,"type":"quantitative"},"text":{"field":"lab"}}}
]},
"config":{"view":{"stroke":"#000","strokeWidth":1.2},"font":"DejaVu Sans","header":{"labels":false,"title":null,"labelFontSize":0,"labelPadding":0}}
}
